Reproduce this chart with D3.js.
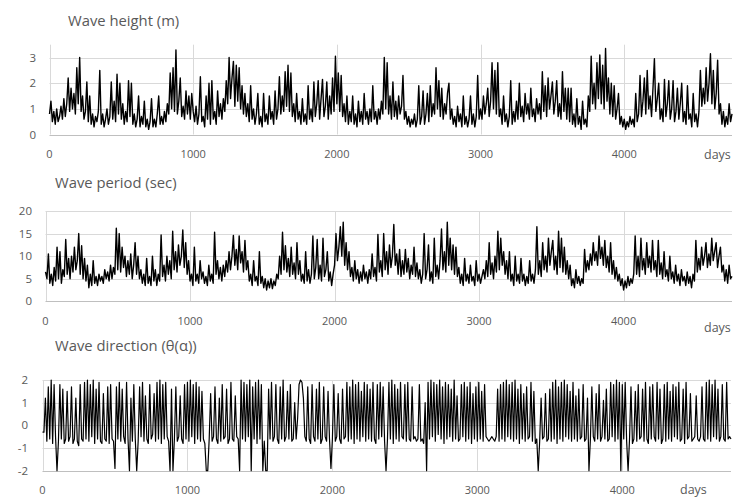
<!DOCTYPE html>
<html>
<head>
<meta charset="utf-8">
<script src="https://cdn.jsdelivr.net/npm/d3@7"></script>
<style>
  body { margin: 0; background: #fff; }
  svg text { font-family: 'Open Sans', sans-serif; fill: #595959; }
</style>
</head>
<body>
<script>
// Values, one every 10 days.
const dayStep = 10;

const waveHeight = [
  0.8,1.3,0.5,0.9,0.4,1.0,0.5,0.7,1.1,0.6, 1.4,0.7,1.2,2.2,0.9,1.8,1.0,1.6,0.8,2.6,
  1.2,3.0,0.9,1.5,0.6,0.9,2.05,0.5,1.5,0.4, 0.8,0.3,0.7,0.5,0.9,2.5,0.4,0.8,0.3,0.6,
  1.0,0.4,0.7,2.05,0.6,1.3,0.5,2.35,0.8,2.0, 0.6,1.2,0.4,0.9,0.5,2.1,0.7,2.0,0.4,0.8,
  0.3,0.6,1.5,0.3,0.7,0.4,1.3,0.3,0.6,0.2, 0.5,1.4,0.3,0.6,0.3,0.8,1.5,0.4,0.7,0.4,
  0.9,0.5,1.2,0.8,2.4,1.0,2.6,0.9,3.3,0.8, 1.3,2.2,0.7,1.1,0.6,1.7,0.8,1.5,0.6,1.6,
  0.9,0.5,1.1,0.4,0.8,2.25,0.5,0.7,0.3,1.5, 0.6,2.0,0.4,2.1,0.6,0.9,0.4,1.7,0.7,1.2,
  0.6,1.4,0.9,2.1,1.2,3.0,1.4,2.2,2.85,1.1, 2.7,1.3,2.6,1.0,1.9,0.8,1.6,0.7,1.2,0.5,
  1.9,0.6,1.0,0.4,0.8,1.6,0.4,0.7,0.3,1.6, 0.5,0.8,0.4,1.5,0.6,0.9,0.4,1.7,0.6,1.0,
  2.25,0.8,1.5,0.9,2.45,1.1,2.7,0.9,2.4,0.7, 1.2,0.5,1.6,0.6,0.9,0.4,1.4,0.5,0.8,0.4,
  1.9,0.6,1.0,0.5,2.05,0.7,1.2,2.1,0.6,1.4, 2.15,0.7,1.1,2.05,0.6,1.5,0.8,2.2,0.9,3.05,
  1.2,2.4,0.9,2.3,0.7,1.2,0.5,1.5,0.4,0.9, 0.5,1.5,0.4,0.8,0.3,1.3,0.5,0.9,0.4,1.6,
  0.6,0.9,0.4,1.0,0.5,1.9,0.6,0.9,0.4,1.0, 0.6,1.3,0.8,3.0,1.0,2.8,0.8,1.5,0.6,2.05,
  0.7,1.3,0.6,1.5,0.8,1.1,2.3,0.6,0.9,0.4, 0.7,0.3,0.6,0.4,0.8,0.3,0.6,1.9,0.4,0.7,
  1.7,0.4,0.8,1.6,0.5,1.9,0.7,1.2,0.8,2.6, 1.0,2.1,0.7,1.8,0.6,1.2,0.8,1.6,2.0,0.6,
  1.0,0.4,0.7,0.3,1.1,0.5,0.8,0.3,1.5,0.4, 0.7,0.3,0.6,1.5,0.4,0.8,0.3,0.7,2.3,0.6,
  1.0,0.6,1.5,0.8,1.2,1.8,0.7,1.3,2.8,1.0, 2.5,0.8,2.8,0.7,1.0,0.4,1.5,0.5,0.8,0.3,
  0.7,2.1,0.4,0.9,0.5,1.3,0.6,2.0,0.7,1.1, 0.5,1.6,0.8,1.2,0.6,1.8,0.7,1.0,0.5,1.4,
  0.8,1.2,0.6,2.45,0.9,1.9,0.7,2.2,1.0,1.5, 2.05,0.8,1.3,2.1,0.7,1.2,0.6,2.45,0.9,1.8,
  0.6,1.8,0.5,1.8,0.4,0.8,0.3,1.4,0.4,0.7, 0.2,1.3,0.4,0.6,0.3,1.5,0.9,3.05,1.2,2.0,
  1.0,2.8,1.4,3.1,1.2,2.7,1.0,3.35,1.3,2.2, 0.8,2.0,0.7,1.9,0.6,1.0,1.6,0.4,0.7,0.3,
  0.6,0.2,0.5,0.3,0.7,0.4,0.6,0.3,1.6,0.5, 0.8,2.3,0.7,1.3,2.2,0.8,2.5,1.0,1.5,0.7,
  1.8,2.95,0.9,1.4,2.0,0.6,1.0,0.5,2.15,0.7, 1.2,2.1,0.6,1.0,2.1,0.5,0.9,1.8,0.6,1.2,
  2.0,0.5,0.9,0.4,1.9,0.6,0.8,0.3,1.6,0.5, 0.8,0.3,0.9,2.5,1.1,1.8,1.2,2.6,1.3,2.0,
  3.15,1.2,2.5,1.0,1.6,2.9,0.8,1.2,0.4,0.9, 0.3,0.7,0.4,1.2,0.5,0.8
];

const wavePeriod = [
  6.5,5.0,10.5,4.0,6.0,3.5,7.5,4.5,12.0,5.0, 11.0,4.0,7.0,5.5,13.7,6.0,9.5,5.0,10.0,6.5,
  12.0,7.0,9.0,15.0,6.0,12.3,5.0,9.5,4.5,8.0, 3.0,6.0,3.5,9.0,4.0,5.5,3.5,6.0,4.5,5.5,
  4.0,7.0,5.0,6.5,4.5,8.0,5.0,7.5,6.0,16.2, 7.0,15.0,6.5,12.0,7.5,10.0,5.5,9.0,6.0,10.5,
  5.0,8.0,13.0,6.0,10.0,5.0,7.0,4.0,6.0,3.5, 9.5,4.0,5.5,3.5,10.0,4.5,7.0,3.5,6.0,4.5,
  14.7,5.5,8.0,4.5,10.0,6.0,9.0,5.0,15.5,7.0, 11.0,6.5,12.5,8.0,10.0,15.8,7.5,13.0,6.0,9.0,
  4.5,6.0,3.5,12.0,4.5,6.0,4.0,9.0,5.0,6.5, 4.0,5.5,3.5,8.0,4.5,6.0,4.0,15.3,6.0,9.0,
  5.0,7.5,4.5,8.0,5.5,9.0,6.5,11.0,7.0,10.0, 14.6,8.0,11.5,7.0,14.5,8.5,11.0,6.5,13.5,7.0,
  9.0,4.5,6.0,3.5,9.0,4.5,5.5,3.5,11.0,4.0, 5.5,3.0,5.0,2.5,4.5,3.0,5.0,2.8,4.5,3.5,
  6.0,5.0,10.0,6.0,15.3,7.0,12.3,6.5,9.5,5.5, 12.0,6.0,8.5,5.0,13.0,6.0,9.0,4.5,6.0,4.0,
  11.0,4.5,7.0,4.0,6.0,14.5,5.0,7.5,13.7,5.0, 8.0,4.5,14.0,5.5,7.0,11.0,4.5,6.5,3.5,6.0,
  8.0,15.0,9.0,12.0,16.5,10.0,17.5,8.0,13.0,7.0, 11.0,5.5,7.5,4.5,9.0,5.0,7.0,4.0,6.5,4.5,
  8.0,5.0,6.5,4.0,7.0,5.0,10.5,5.5,7.5,4.5, 14.8,6.5,9.0,5.5,15.0,7.0,11.0,6.0,12.5,7.5,
  10.0,17.0,8.0,10.5,6.0,11.5,5.5,9.0,6.0,11.5, 6.5,9.5,5.0,8.0,6.0,12.0,5.5,8.5,5.0,7.0,
  4.0,6.0,15.0,5.0,7.0,12.5,4.5,6.5,4.0,14.0, 5.5,8.0,5.0,9.0,16.0,7.0,11.0,6.5,17.5,8.0,
  14.0,7.0,12.5,6.0,12.0,5.5,7.5,4.0,6.0,3.5, 9.5,4.5,6.0,4.0,8.0,4.5,5.5,3.5,9.0,4.5,
  6.0,4.0,5.5,7.0,5.0,9.0,5.5,13.0,6.0,8.5, 5.0,10.0,6.5,15.5,7.0,14.0,8.0,11.0,6.0,9.0,
  5.0,11.0,4.5,6.0,3.5,10.0,4.5,6.0,4.0,9.5, 4.5,6.0,3.5,5.5,4.0,9.0,4.5,6.0,4.0,7.0,
  16.5,6.0,9.0,5.5,13.0,7.0,10.0,6.5,14.0,8.0, 11.0,13.5,7.0,10.0,6.0,15.5,7.5,14.0,6.5,12.0,
  6.0,9.0,5.0,8.0,3.5,5.0,3.0,7.0,4.0,5.5, 3.5,5.0,4.0,11.5,6.5,9.0,7.0,10.5,8.0,13.0,
  9.0,11.0,8.0,14.5,9.5,12.0,8.0,13.5,7.5,10.0, 6.5,13.0,6.0,9.0,5.0,7.5,4.5,6.0,3.5,5.0,
  2.5,4.5,3.0,5.5,3.5,5.0,4.0,6.0,14.5,6.0, 10.0,5.5,14.0,7.0,9.5,6.0,13.0,7.5,10.0,6.5,
  13.5,7.0,9.0,5.5,13.5,6.0,8.5,5.0,11.0,5.5, 7.0,4.5,10.0,5.0,6.5,4.0,8.0,4.5,6.0,3.5,
  7.0,4.5,5.5,3.5,6.5,4.0,5.5,3.0,6.0,4.5, 13.5,6.5,9.5,7.0,12.0,8.0,10.0,13.0,7.5,10.5,
  8.0,14.0,9.0,11.0,13.0,7.5,10.0,12.0,6.5,8.0, 4.5,7.0,4.0,8.0,5.0,5.5
];

const waveDirection = [
  -0.3,-0.3,1.2,-0.7,1.7,-0.6,2.0,-0.8,1.8,-0.5, -2.0,-0.7,1.8,-0.6,1.6,-0.8,-0.6,1.5,-0.7,-0.5,
  1.7,-0.8,-0.6,1.2,-0.7,-0.9,1.8,-0.6,-0.7,1.9, -0.6,2.0,-0.7,1.8,-0.5,2.0,-0.8,1.6,-0.6,1.9,
  -0.7,-0.8,1.4,-0.6,-0.7,1.7,-0.8,1.8,-0.6,-0.7, -1.9,1.7,-0.6,1.9,-0.7,1.6,-0.5,-0.8,1.9,-0.6,
  -2.0,1.2,-0.7,1.8,-0.6,-2.0,-0.7,1.7,-0.5,1.9, -0.7,1.3,-0.6,-0.8,1.8,-0.6,-0.4,1.4,-0.7,1.9,
  -0.6,2.0,-0.8,1.8,-0.6,1.9,-0.5,-0.7,-2.0,1.6, -2.0,-0.6,1.7,-0.7,-0.5,1.3,-0.6,-0.8,1.8,-0.6,
  1.9,-0.7,2.0,-0.5,1.8,-0.8,1.9,-0.6,1.7,-0.7, 1.5,-0.6,-0.8,-2.0,-2.0,-0.6,1.4,-0.7,-0.5,1.7,
  -0.6,-0.8,1.2,-0.7,1.8,-0.6,-0.5,1.6,-0.8,-0.6, 1.9,-0.6,-0.7,1.3,-0.5,-0.6,-2.0,2.0,-0.6,1.9,
  -0.7,1.8,-0.5,2.0,-2.0,1.7,-0.6,1.9,-0.8,2.0, -0.6,1.8,-2.0,-0.7,-2.0,-2.0,1.6,-0.6,1.9,-0.7,
  -0.5,1.8,-0.6,-0.8,1.7,-0.6,2.0,-0.7,-0.5,1.5, -0.6,1.8,-0.7,-0.6,1.0,-0.6,0.3,1.8,2.0,1.9,
  1.2,-0.5,-0.7,1.7,-0.6,-0.8,1.8,-0.5,-0.7,1.6, -0.6,1.9,-0.8,-0.6,1.7,-0.5,-0.7,1.5,-0.6,-1.9,
  -0.6,1.8,-0.7,-0.5,1.4,-0.6,-0.8,1.6,-0.6,-0.5, 1.9,-0.7,1.7,-0.6,2.0,-0.8,1.8,-0.6,1.9,-0.7,
  1.5,-0.5,1.9,-0.7,1.8,-0.6,1.6,-0.7,1.9,-0.6, -0.8,1.8,-0.6,1.9,-0.5,1.7,-0.7,-2.0,-0.6,1.9,
  -0.6,2.0,-0.8,1.8,-0.6,1.6,-0.7,1.9,-0.5,-0.6, 1.8,-0.7,1.9,-0.6,-0.7,1.7,-0.6,-0.5,-0.7,-0.6,
  1.8,-0.7,-0.6,-0.8,1.0,-2.0,1.9,-0.6,2.0,-0.5, 1.9,-0.7,1.8,-0.4,2.0,-0.6,1.7,-0.8,1.9,-0.6,
  1.8,-0.5,1.6,-0.7,2.0,-0.6,1.3,-0.7,-0.6,1.8, -0.5,1.9,-0.7,1.7,-0.6,1.9,-0.8,1.4,-0.6,1.7,
  -0.7,1.9,-0.6,1.5,-0.7,1.8,-0.5,-0.6,-0.7,-0.6, -0.5,-0.6,-0.7,-0.5,1.6,-0.7,1.8,-0.6,1.9,-0.7,
  2.0,-0.5,1.8,-0.6,1.9,-0.7,2.0,-0.6,1.6,-0.8, 1.8,-0.6,1.4,-0.7,1.7,-0.6,-0.5,1.9,-0.7,1.5,
  -0.8,-0.6,-2.0,-0.7,1.2,-0.6,-0.5,1.4,-0.7,-0.6, 1.6,-0.7,1.9,-0.6,2.0,-0.8,1.7,-0.6,1.9,-0.7,
  2.0,-0.5,1.8,-0.6,1.5,-0.7,1.9,-0.6,1.3,-0.7, 1.6,-0.6,-0.5,1.8,-0.7,-0.6,1.2,-2.0,-0.6,1.7,
  -0.5,-0.7,1.4,-0.6,1.8,-0.7,-0.5,1.1,-0.6,1.6, -0.7,-0.6,1.9,-0.5,1.8,-0.7,2.0,-0.6,1.9,-2.0,
  1.8,-0.6,1.9,-0.7,-2.0,-0.6,1.7,-0.8,-0.6,1.5, -0.7,1.8,-0.6,-0.5,1.6,-0.7,1.9,-0.6,-0.8,1.7,
  -0.6,1.8,-0.5,-0.7,1.9,-0.6,1.6,-0.8,-0.6,1.8, -0.7,1.9,-0.6,1.5,-0.7,1.8,-0.5,1.7,-0.6,1.9,
  -0.7,-0.6,1.6,-0.8,1.9,-0.6,-0.5,1.4,-0.7,-0.6, -0.5,1.3,-0.6,-0.7,-0.5,1.7,-0.6,-0.7,1.9,-0.6,
  2.0,-0.7,1.8,-0.5,2.0,-0.6,1.6,-0.7,-0.5,1.8, -0.6,-0.7,1.9,-0.6,-0.5,-0.6
];

// Tick labels and titles.
const dayTicks = [0, 1000, 2000, 3000, 4000];
const heightTicks = [0, 1, 2, 3];
const periodTicks = [0, 5, 10, 15, 20];
const directionTicks = [-2, -1, 0, 1, 2];
const panelTitles = ['Wave height (m)', 'Wave period (sec)', 'Wave direction (\u03b8(\u03b1))'];
const dayLabel = 'days';

// Dimensions of picture.
const pallette = {height: 499, width: 734};
const lastDay = 4750;

// One entry per panel: where it sits and what it shows.
const panels = [
  {values: waveHeight, ticks: heightTicks, yDomain: [0, 3.5], left: 49.5, right: 732, top: 44.7, bottom: 134.5,
   title: {x: 68, y: 21}, tickY: 154, tickRight: 36, days: {x: 704, y: 155}, stroke: 1.4},
  {values: wavePeriod, ticks: periodTicks, yDomain: [0, 20], left: 45.5, right: 732, top: 211, bottom: 301.3,
   title: {x: 55, y: 182.5}, tickY: 321, tickRight: 32, days: {x: 704, y: 328}, stroke: 1.4},
  {values: waveDirection, ticks: directionTicks, yDomain: [-2, 2], left: 42.5, right: 731, top: 380, bottom: 470.7,
   title: {x: 55, y: 346}, tickY: 490, tickRight: 28, days: {x: 680, y: 490}, stroke: 1.2}
];

const svg = d3.select('body')
      .append('svg')
      .attr('width', pallette.width)
      .attr('height', pallette.height);

panels.forEach((p, k) =>
{
  // Scales.
  const xScale = d3.scaleLinear()
        .domain([0, lastDay])
        .range([p.left, p.right]);
  const yScale = d3.scaleLinear()
        .domain(p.yDomain)
        .range([p.bottom, p.top]);

  const g = svg.append('g').attr('class', 'panel');

  // Grid lines.
  g.selectAll('line.hgrid')
    .data(p.ticks.filter((t) => t !== p.yDomain[0]))
    .enter()
    .append('line')
    .attr('class', 'hgrid')
    .attr('x1', p.left)
    .attr('x2', p.right)
    .attr('y1', (d) => Math.round(yScale(d)) + 0.5)
    .attr('y2', (d) => Math.round(yScale(d)) + 0.5)
    .style('stroke', '#d9d9d9')
    .style('stroke-width', 1);

  g.selectAll('line.vgrid')
    .data(dayTicks)
    .enter()
    .append('line')
    .attr('class', 'vgrid')
    .attr('x1', (d) => Math.round(xScale(d)) + 0.5)
    .attr('x2', (d) => Math.round(xScale(d)) + 0.5)
    .attr('y1', p.top)
    .attr('y2', p.bottom)
    .style('stroke', '#d9d9d9')
    .style('stroke-width', 1);

  // Horizontal axis line.
  g.append('line')
    .attr('x1', p.left)
    .attr('x2', p.right)
    .attr('y1', Math.round(yScale(p.yDomain[0])) + 0.5)
    .attr('y2', Math.round(yScale(p.yDomain[0])) + 0.5)
    .style('stroke', '#bfbfbf')
    .style('stroke-width', 1);

  // Series.
  const line = d3.line()
        .x((d, i) => xScale(i * dayStep))
        .y((d) => yScale(d));

  g.append('path')
    .datum(p.values)
    .attr('d', line)
    .style('fill', 'none')
    .style('stroke', '#000')
    .style('stroke-width', p.stroke)
    .style('stroke-linejoin', 'round');

  // Tick labels.
  g.selectAll('text.xtick')
    .data(dayTicks)
    .enter()
    .append('text')
    .attr('class', 'xtick')
    .attr('x', (d) => xScale(d))
    .attr('y', p.tickY)
    .attr('dy', '0.35em')
    .attr('text-anchor', 'middle')
    .style('font-size', '11px')
    .text((d) => d);

  g.selectAll('text.ytick')
    .data(p.ticks)
    .enter()
    .append('text')
    .attr('class', 'ytick')
    .attr('x', p.tickRight)
    .attr('y', (d) => yScale(d))
    .attr('dy', '0.35em')
    .attr('text-anchor', 'end')
    .style('font-size', '11.5px')
    .text((d) => d);

  // Title and unit.
  g.append('text')
    .attr('x', p.title.x)
    .attr('y', p.title.y)
    .attr('dy', '0.35em')
    .style('font-size', '14.8px')
    .text(panelTitles[k]);

  g.append('text')
    .attr('x', p.days.x)
    .attr('y', p.days.y)
    .attr('dy', '0.35em')
    .style('font-size', '12.5px')
    .text(dayLabel);
});
</script>
</body>
</html>
